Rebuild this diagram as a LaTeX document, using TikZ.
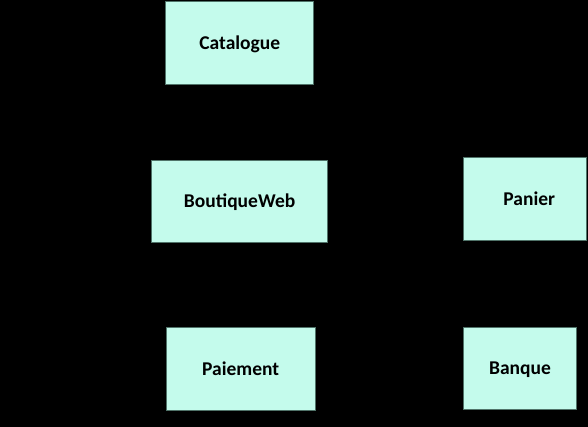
\documentclass[tikz,border=0pt]{standalone}
\usepackage{fontspec}
\setmainfont{Carlito}
\definecolor{boxfill}{RGB}{196,251,236}
\definecolor{boxline}{RGB}{80,115,105}
\begin{document}
\begin{tikzpicture}[x=1pt,y=-1pt,
  cls/.style={draw=boxline, line width=0.9pt, fill=boxfill, inner sep=0pt, text height=12.6pt, text depth=0pt, font=\fontsize{19.5}{22}\selectfont\bfseries}]
\fill[black] (0,0) rectangle (588,427);
\useasboundingbox (0,0) rectangle (588,427);
\node[cls, minimum width=148pt, minimum height=83pt] (cat) at (239.8,42.8) {Catalogue};
\node[cls, minimum width=175.5pt, minimum height=82.4pt] (bw) at (239.6,201.5) {BoutiqueWeb};
\node[cls, minimum width=122.6pt, minimum height=82.3pt] (pan) at (524.8,198.9) {\hspace*{9pt}Panier};
\node[cls, minimum width=148.5pt, minimum height=82.6pt] (pai) at (240.7,369) {Paiement};
\node[cls, minimum width=113.7pt, minimum height=82.7pt] (ban) at (520,368.4) {Banque};
\end{tikzpicture}
\end{document}
